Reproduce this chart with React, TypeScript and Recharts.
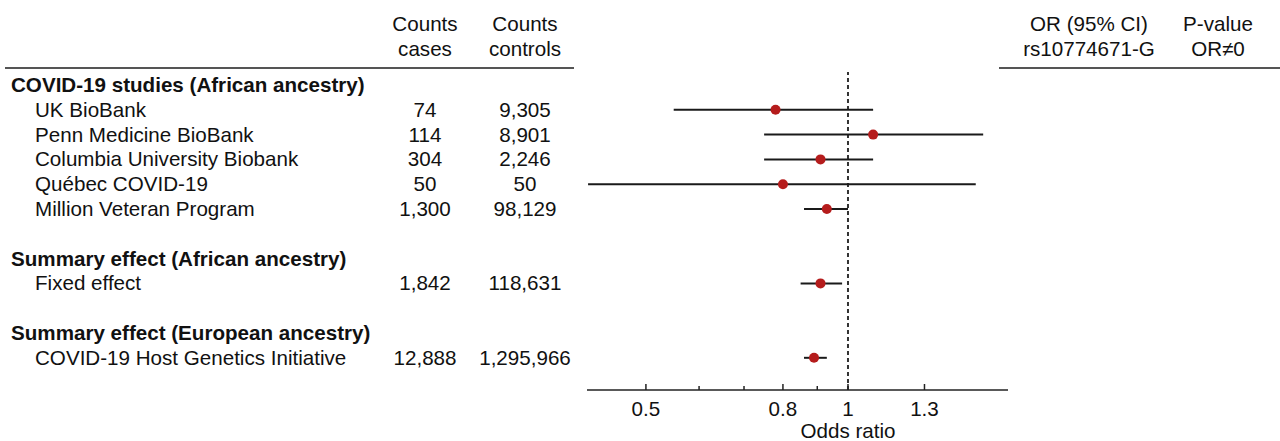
import { ScatterChart, Scatter, XAxis, YAxis, ErrorBar, ReferenceLine } from 'recharts';

const rowLabels = [
  'COVID-19 studies (African ancestry)',
  'UK BioBank',
  'Penn Medicine BioBank',
  'Columbia University Biobank',
  'Québec COVID-19',
  'Million Veteran Program',
  '',
  'Summary effect (African ancestry)',
  'Fixed effect',
  '',
  'Summary effect (European ancestry)',
  'COVID-19 Host Genetics Initiative',
];
const headingRows = [0, 7, 10];
const casesCounts = ['', '74', '114', '304', '50', '1,300', '', '', '1,842', '', '', '12,888'];
const controlCounts = ['', '9,305', '8,901', '2,246', '50', '98,129', '', '', '118,631', '', '', '1,295,966'];
const oddsRatios = [null, 0.78, 1.09, 0.91, 0.8, 0.93, null, null, 0.91, null, null, 0.89];
const ciLower = [null, 0.55, 0.75, 0.75, 0.41, 0.86, null, null, 0.85, null, null, 0.86];
const ciUpper = [null, 1.09, 1.59, 1.09, 1.55, 1.0, null, null, 0.98, null, null, 0.93];
const pValues = ['', '0.39', '0.65', '0.29', '0.51', '0.06', '', '', '0.03', '', '', '1.2e-9'];
const xTicks = [0.5, 0.6, 0.7, 0.8, 0.9, 1, 1.3];
const labeledTicks = [0.5, 0.8, 1, 1.3];

const rowIds = rowLabels.map((_, i) => i);
const points = rowIds
  .filter((i) => oddsRatios[i] !== null)
  .map((i) => ({
    row: i,
    or: oddsRatios[i] as number,
    err: [(oddsRatios[i] as number) - (ciLower[i] as number), (ciUpper[i] as number) - (oddsRatios[i] as number)],
  }));

const FONT = '"Liberation Sans", Arial, sans-serif';
const SIZE = 20.6;
const INK = '#111';
const fmt = (v: number) => v.toFixed(2);

const LeftTick = (props: any) => {
  const { y, payload } = props;
  const i = payload.value;
  const heading = headingRows.includes(i);
  return (
    <g fontFamily={FONT} fontSize={SIZE} fill={INK}>
      <text x={heading ? 11 : 35} y={y} dy={7} fontWeight={heading ? 'bold' : 'normal'}>
        {rowLabels[i]}
      </text>
      <text x={425} y={y} dy={7} textAnchor='middle'>
        {casesCounts[i]}
      </text>
      <text x={525} y={y} dy={7} textAnchor='middle'>
        {controlCounts[i]}
      </text>
    </g>
  );
};

const RightTick = (props: any) => {
  const { y, payload } = props;
  const i = payload.value;
  if (oddsRatios[i] === null) return <g />;
  return (
    <g fontFamily={FONT} fontSize={SIZE} fill={INK}>
      <text x={1089} y={y} dy={7} textAnchor='middle'>
        {`${fmt(oddsRatios[i] as number)} (${fmt(ciLower[i] as number)}-${fmt(ciUpper[i] as number)})`}
      </text>
      <text x={1218} y={y} dy={7} textAnchor='middle'>
        {pValues[i]}
      </text>
    </g>
  );
};

const XTick = (props: any) => {
  const { x, y, payload } = props;
  const major = labeledTicks.includes(payload.value);
  return (
    <g>
      <line x1={x} x2={x} y1={y} y2={y - (major ? 6 : 4)} stroke='#222' strokeWidth={1.5} />
      {major && (
        <text x={x} y={y} dy={26} textAnchor='middle' fontFamily={FONT} fontSize={SIZE} fill={INK}>
          {payload.value}
        </text>
      )}
    </g>
  );
};

const App = () => {
  return (
    <div style={{ position: 'absolute', left: 0, top: 0 }}>
      <ScatterChart width={1280} height={441} margin={{ top: 72, right: 0, bottom: 0, left: 0 }}>
        <XAxis
          type='number'
          dataKey='or'
          scale='log'
          domain={[0.4085, 1.7313]}
          allowDataOverflow
          ticks={xTicks}
          interval={0}
          tickSize={0}
          tickMargin={0}
          tickLine={false}
          tick={<XTick />}
          axisLine={{ stroke: '#222', strokeWidth: 1.5 }}
          height={51}
        />
        <YAxis
          yAxisId='left'
          type='number'
          dataKey='row'
          domain={[-0.524, 12.298]}
          reversed
          ticks={rowIds}
          interval={0}
          width={587}
          axisLine={false}
          tickLine={false}
          tick={<LeftTick />}
        />
        <YAxis
          yAxisId='right'
          orientation='right'
          type='number'
          domain={[-0.524, 12.298]}
          reversed
          ticks={rowIds}
          interval={0}
          width={272}
          axisLine={false}
          tickLine={false}
          tick={<RightTick />}
        />
        <ReferenceLine x={1} yAxisId='left' stroke='#333' strokeWidth={2} strokeDasharray='4 3' />
        <Scatter data={points} yAxisId='left' fill='#b51c1c' isAnimationActive={false} shape={(p: any) => <circle cx={p.cx} cy={p.cy} r={5} fill='#b51c1c' />}>
          <ErrorBar dataKey='err' direction='x' width={0} stroke='#1a1a1a' strokeWidth={2} />
        </Scatter>
        <g fontFamily={FONT} fontSize={SIZE} fill={INK} textAnchor='middle'>
          <text x={425} y={31}>Counts</text>
          <text x={425} y={56}>cases</text>
          <text x={525} y={31}>Counts</text>
          <text x={525} y={56}>controls</text>
          <text x={1089} y={31}>OR (95% CI)</text>
          <text x={1089} y={56}>rs10774671-G</text>
          <text x={1218} y={31}>P-value</text>
          <text x={1218} y={56}>OR≠0</text>
          <text x={848} y={438}>Odds ratio</text>
        </g>
        <line x1={5} x2={574} y1={68} y2={68} stroke='#555' strokeWidth={2} />
        <line x1={999} x2={1280} y1={68} y2={68} stroke='#555' strokeWidth={2} />
      </ScatterChart>
    </div>
  );
};

export default App;
